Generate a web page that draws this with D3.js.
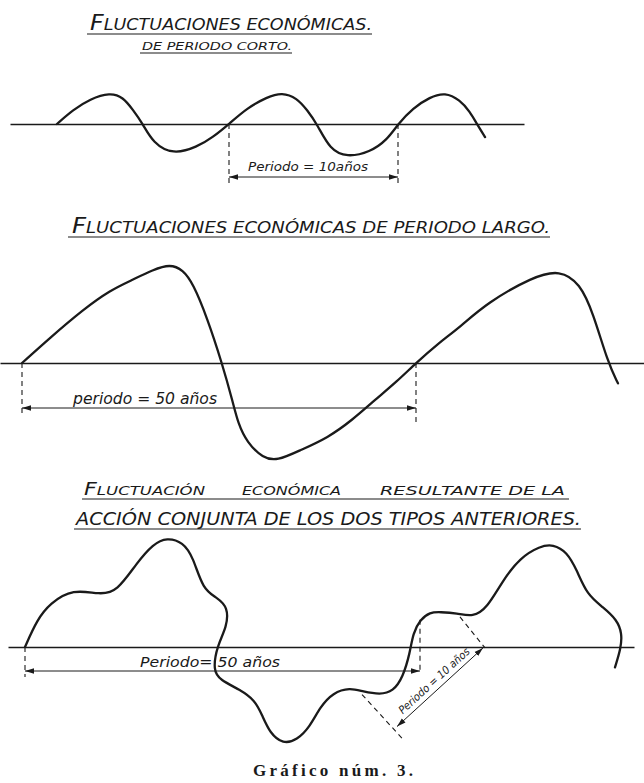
<!DOCTYPE html>
<html>
<head>
<meta charset="utf-8">
<script src="https://cdn.jsdelivr.net/npm/d3@7"></script>
<style>
  body { margin: 0; background: #fff; }
  .lettering { font-family: "Liberation Sans Narrow", "DejaVu Sans Condensed", "Liberation Sans", sans-serif; font-style: italic; fill: #1a1a1a; }
</style>
</head>
<body>
<div id="chart-area"></div>
<script>
// short cycle (period = 10 years): time in years, amplitude in units of one swing
var shortYears  = [-10.18, -9.23, -8.22, -7.04, -6.27, -5.68, -5.09, -4.50, -3.31, -1.89, -0.95, 0, 1.07, 2.25, 3.14, 4.02, 4.62, 5.21, 5.98, 6.98, 8.34, 9.35, 10, 10.89, 11.89, 12.78, 13.67, 14.26, 14.67, 15.15];
var shortValues = [0, 0.44, 0.78, 0.98, 0.84, 0.44, 0, -0.59, -0.96, -0.72, -0.41, 0, 0.50, 0.84, 0.99, 0.81, 0.44, 0, -0.81, -1.04, -0.88, -0.50, 0, 0.50, 0.84, 0.99, 0.75, 0.38, 0, -0.41];

// long cycle (period = 50 years)
var longYears  = [0, 3.55, 7.74, 11.17, 14.09, 16.62, 18.78, 20.43, 21.70, 23.48, 25.38, 26.78, 27.41, 28.55, 30.58, 32.36, 35.28, 38.83, 41.88, 44.80, 47.59, 50, 52.79, 55.58, 59.01, 64.85, 68.27, 70.81, 72.46, 74.37, 75.63];
var longValues = [0, 0.26, 0.55, 0.75, 0.86, 0.96, 1.02, 0.96, 0.82, 0.47, 0, -0.41, -0.62, -0.82, -0.98, -1.01, -0.90, -0.77, -0.59, -0.38, -0.19, 0, 0.20, 0.37, 0.62, 0.89, 0.96, 0.82, 0.52, 0, -0.21];

// both together (hand drawn, the line doubles back on itself)
var combinedYears  = [0, 1.52, 3.16, 6.08, 9.49, 11.65, 14.18, 16.20, 17.97, 20.0, 21.27, 22.53, 24.30, 25.70, 25.57, 24.30, 23.80, 24.68, 27.22, 29.11, 30.0, 31.01, 32.66, 34.43, 36.08, 37.34, 38.99, 41.14, 42.78, 44.94, 46.58, 47.85, 48.73, 49.11, 50, 51.27, 52.53, 54.68, 56.71, 58.48, 60.51, 62.66, 65.19, 66.84, 68.61, 69.87, 71.14, 73.16, 74.94, 75.57, 75.44, 74.68];
var combinedValues = [0, 0.28, 0.45, 0.60, 0.54, 0.57, 0.87, 1.06, 1.13, 1.08, 0.93, 0.59, 0.51, 0.41, 0.21, 0.01, -0.24, -0.34, -0.44, -0.55, -0.70, -0.89, -1.0, -0.96, -0.82, -0.62, -0.47, -0.42, -0.46, -0.49, -0.46, -0.31, -0.06, 0.14, 0.28, 0.36, 0.36, 0.35, 0.31, 0.40, 0.69, 0.92, 1.04, 1.06, 0.98, 0.79, 0.54, 0.41, 0.28, 0.14, -0.01, -0.21];

// the 10 year period marked on the combined curve (years, amplitude)
var tenYearArrow = [[47.09, -0.82], [57.97, -0.01]];
var tenYearGuides = [[[42.66, -0.49], [47.72, -0.94]], [[55.06, 0.31], [58.23, -0.01]]];

var width = 644;
var height = 783;
var ink = "#1a1a1a";

var svg = d3.select('#chart-area')
    .append('svg')
        .attr('width', width)
        .attr('height', height);

svg.append('defs').append('marker')
    .attr('id', 'head')
    .attr('viewBox', '0 0 10 10')
    .attr('refX', 10)
    .attr('refY', 5)
    .attr('markerWidth', 9)
    .attr('markerHeight', 9)
    .attr('orient', 'auto-start-reverse')
    .append('path')
        .attr('d', 'M0,2L10,5L0,8Z')
        .attr('fill', ink);

// layout of each of the three drawings
var panels = [
    {years: shortYears, values: shortValues, period: 10, x0: 229, x1: 398, axisY: 124, amp: 32, axis: [10, 524],
     dashLeft: 59, dashRight: 59, arrow: 53, label: 47, text: "Periodo = 10años", textLen: 120, textX: 248, size: 13},
    {years: longYears, values: longValues, period: 50, x0: 22, x1: 416, axisY: 363, amp: 97, axis: [0, 644],
     dashLeft: 52, dashRight: 59, arrow: 45, label: 41, text: "periodo = 50 años", textLen: 144, textX: 73, size: 15},
    {years: combinedYears, values: combinedValues, period: 50, x0: 25, x1: 420, axisY: 647, amp: 97, axis: [8, 634],
     dashLeft: 30, dashRight: 26, arrow: 24, label: 20, text: "Periodo= 50 años", textLen: 140, textX: 140, size: 14, dashFromCurve: true}
];

panels.forEach(function (p) {
    var g = svg.append('g');

    var x = d3.scaleLinear().domain([0, p.period]).range([p.x0, p.x1]);
    var y = d3.scaleLinear().domain([-1, 1]).range([p.axisY + p.amp, p.axisY - p.amp]);
    p.x = x; p.y = y;

    // zero line
    var axisScale = d3.scaleLinear().range(p.axis);
    g.append('g')
        .attr('transform', 'translate(0,' + y(0) + ')')
        .call(d3.axisBottom(axisScale).tickValues([]).tickSizeOuter(0))
        .select('.domain')
            .attr('stroke', ink)
            .attr('stroke-width', 1.3);

    // period guides
    var topRight = p.dashFromCurve ? y(p.values[p.years.indexOf(p.period)]) : y(0);
    g.append('line')
        .attr('x1', x(0)).attr('x2', x(0))
        .attr('y1', y(0)).attr('y2', y(0) + p.dashLeft)
        .attr('stroke', ink).attr('stroke-width', 1.1).attr('stroke-dasharray', '5,4');
    g.append('line')
        .attr('x1', x(p.period)).attr('x2', x(p.period))
        .attr('y1', topRight).attr('y2', y(0) + p.dashRight)
        .attr('stroke', ink).attr('stroke-width', 1.1).attr('stroke-dasharray', '5,4');

    g.append('line')
        .attr('x1', x(0)).attr('x2', x(p.period))
        .attr('y1', y(0) + p.arrow).attr('y2', y(0) + p.arrow)
        .attr('stroke', ink).attr('stroke-width', 1)
        .attr('marker-start', 'url(#head)')
        .attr('marker-end', 'url(#head)');

    g.append('text')
        .attr('class', 'lettering')
        .attr('x', p.textX)
        .attr('y', y(0) + p.label)
        .attr('font-size', p.size + 'px')
        .attr('textLength', p.textLen)
        .attr('lengthAdjust', 'spacingAndGlyphs')
        .text(p.text);

    var line = d3.line()
        .x(function (d) { return x(d[0]); })
        .y(function (d) { return y(d[1]); })
        .curve(d3.curveBasis);

    g.append('path')
        .datum(d3.zip(p.years, p.values))
        .attr('d', line)
        .attr('fill', 'none')
        .attr('stroke', ink)
        .attr('stroke-width', 2.3)
        .attr('stroke-linejoin', 'round')
        .attr('stroke-linecap', 'round');
});

// the slanted 10 year marker on the last drawing
var p3 = panels[2];
var gd = svg.append('g');
tenYearGuides.forEach(function (seg) {
    gd.append('line')
        .attr('x1', p3.x(seg[0][0])).attr('y1', p3.y(seg[0][1]))
        .attr('x2', p3.x(seg[1][0])).attr('y2', p3.y(seg[1][1]))
        .attr('stroke', ink).attr('stroke-width', 1.1).attr('stroke-dasharray', '5,4');
});
var a0 = [p3.x(tenYearArrow[0][0]), p3.y(tenYearArrow[0][1])];
var a1 = [p3.x(tenYearArrow[1][0]), p3.y(tenYearArrow[1][1])];
gd.append('line')
    .attr('x1', a0[0]).attr('y1', a0[1])
    .attr('x2', a1[0]).attr('y2', a1[1])
    .attr('stroke', ink).attr('stroke-width', 1)
    .attr('marker-start', 'url(#head)')
    .attr('marker-end', 'url(#head)');
var ang = Math.atan2(a1[1] - a0[1], a1[0] - a0[0]);
var mid = [(a0[0] + a1[0]) / 2 + 5 * Math.sin(ang), (a0[1] + a1[1]) / 2 - 5 * Math.cos(ang)];
gd.append('text')
    .attr('class', 'lettering')
    .attr('transform', 'translate(' + mid[0] + ',' + mid[1] + ') rotate(' + (ang * 180 / Math.PI) + ')')
    .attr('text-anchor', 'middle')
    .attr('font-size', '11px')
    .attr('textLength', 92)
    .attr('lengthAdjust', 'spacingAndGlyphs')
    .text("Periodo = 10 años");

// hand lettered headings
var headings = [
    {text: "FLUCTUACIONES ECONÓMICAS.", x: 90, y: 30, len: 282, size: 16, rule: [87, 372, 34]},
    {text: "DE PERIODO CORTO.", x: 142, y: 50, len: 150, size: 11, rule: [140, 292, 53]},
    {text: "FLUCTUACIONES ECONÓMICAS DE PERIODO LARGO.", x: 72, y: 233, len: 478, size: 16, rule: [68, 550, 237]},
    {text: "FLUCTUACIÓN", x: 84, y: 495, len: 121, size: 13, rule: [82, 569, 499]},
    {text: "ECONÓMICA", x: 242, y: 495, len: 99, size: 13},
    {text: "RESULTANTE DE LA", x: 380, y: 495, len: 185, size: 13},
    {text: "ACCIÓN CONJUNTA DE LOS DOS TIPOS ANTERIORES.", x: 76, y: 525, len: 505, size: 17, rule: [74, 581, 529]}
];

headings.forEach(function (h) {
    var t = svg.append('text')
        .attr('class', 'lettering')
        .attr('x', h.x)
        .attr('y', h.y)
        .attr('font-size', h.size + 'px')
        .attr('textLength', h.len)
        .attr('lengthAdjust', 'spacingAndGlyphs');
    var first = h.text.charAt(0);
    if (first === 'F') {
        t.append('tspan').attr('font-size', (h.size * 1.35) + 'px').text(first);
        t.append('tspan').text(h.text.slice(1));
    } else {
        t.text(h.text);
    }
    if (h.rule) {
        svg.append('line')
            .attr('x1', h.rule[0]).attr('x2', h.rule[1])
            .attr('y1', h.rule[2]).attr('y2', h.rule[2])
            .attr('stroke', ink).attr('stroke-width', 1.2);
    }
});

svg.append('text')
    .attr('x', 253)
    .attr('y', 776)
    .attr('font-family', '"Liberation Serif", "DejaVu Serif", serif')
    .attr('font-weight', 'bold')
    .attr('font-size', '17px')
    .attr('textLength', 160)
    .attr('lengthAdjust', 'spacing')
    .attr('fill', ink)
    .text("Gráfico núm. 3.");
</script>
</body>
</html>
